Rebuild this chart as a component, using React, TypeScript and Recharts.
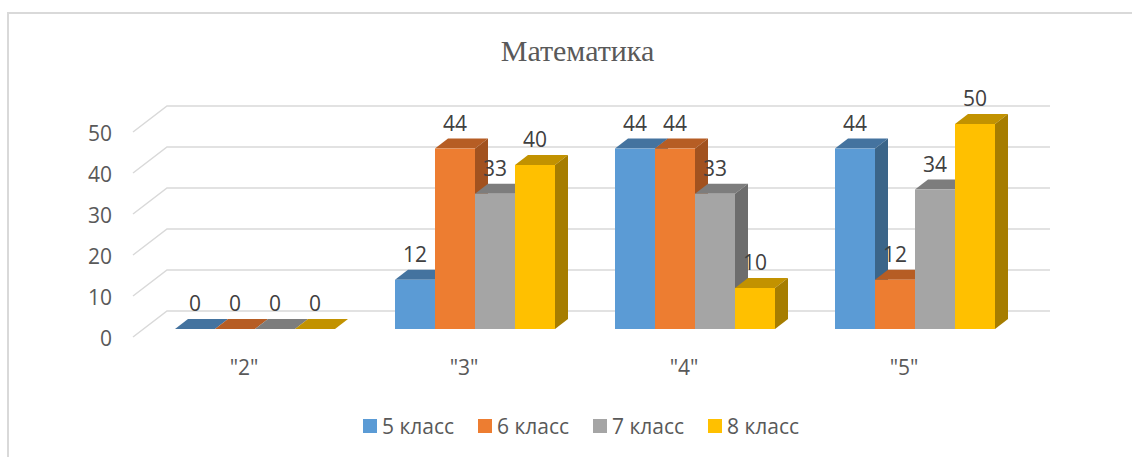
import React from "react";
import { BarChart, Bar, XAxis, YAxis, CartesianGrid, Legend, LabelList } from "recharts";

const categories = ['"2"', '"3"', '"4"', '"5"'];
const grade5 = [0, 12, 44, 44];
const grade6 = [0, 44, 44, 12];
const grade7 = [0, 33, 33, 34];
const grade8 = [0, 40, 10, 50];
const yTicks = [0, 10, 20, 30, 40, 50];

const data = categories.map((name, i) => ({
  name,
  g5: grade5[i],
  g6: grade6[i],
  g7: grade7[i],
  g8: grade8[i],
}));

const FONT = "'Open Sans', sans-serif";
const TEXT = "#595959";

const series = [
  { key: "g5", name: "5 класс", front: "#5B9BD5", top: "#44739F", side: "#3B6589" },
  { key: "g6", name: "6 класс", front: "#ED7D31", top: "#B65D24", side: "#A2521F" },
  { key: "g7", name: "7 класс", front: "#A5A5A5", top: "#7D7D7D", side: "#6D6D6D" },
  { key: "g8", name: "8 класс", front: "#FFC000", top: "#C29200", side: "#A67D00" },
];

const DX = 13;
const DY = 10;

function Bar3D(props: any) {
  const { x, y, width, height, front, top, side } = props;
  const r = x + width;
  const b = y + height;
  return (
    <g>
      <polygon points={`${x},${y} ${x + DX},${y - DY} ${r + DX},${y - DY} ${r},${y}`} fill={top} />
      <polygon points={`${r},${y} ${r + DX},${y - DY} ${r + DX},${b - DY} ${r},${b}`} fill={side} />
      <rect x={x} y={y} width={width} height={height} fill={front} />
    </g>
  );
}

function GridLine(props: any) {
  const { x1, y1, x2 } = props;
  const pts = `${x1 - 12},${y1 + 8} ${x1 + 22},${y1 - 18} ${x2 + 25},${y1 - 18}`;
  return <polyline points={pts} fill="none" stroke="#D9D9D9" strokeWidth={1.5} />;
}

function XTick(props: any) {
  const { x, payload } = props;
  return (
    <text x={x - 11} y={375} textAnchor="middle" fontFamily={FONT} fontSize={21} fill={TEXT}>
      {payload.value}
    </text>
  );
}

function YTick(props: any) {
  const { y, payload } = props;
  return (
    <text x={112} y={y + 17} textAnchor="end" fontFamily={FONT} fontSize={21} fill={TEXT}>
      {payload.value}
    </text>
  );
}

function DataLabel(props: any) {
  const { x, y, width, value } = props;
  return (
    <text
      x={x + width / 2}
      y={y - 18}
      textAnchor="middle"
      fontFamily={FONT}
      fontSize={21}
      fill="#404040"
    >
      {value}
    </text>
  );
}

function LegendContent() {
  return (
    <div style={{ position: "relative", width: 1132, height: 30 }}>
      {series.map((s, i) => (
        <div
          key={s.key}
          style={{
            position: "absolute",
            left: 363 + i * 115,
            top: 0,
            display: "flex",
            alignItems: "center",
            height: 30,
            fontFamily: FONT,
            fontSize: 21,
            color: TEXT,
            whiteSpace: "nowrap",
          }}
        >
          <span style={{ display: "block", width: 14, height: 14, background: s.front, marginRight: 5 }} />
          {s.name}
        </div>
      ))}
    </div>
  );
}

export default function App() {
  return (
    <div style={{ position: "absolute", left: 0, top: 0, width: 1132, height: 457, background: "#fff", overflow: "hidden" }}>
      <div style={{ position: "absolute", left: 7, top: 12, width: 1125, height: 1.5, background: "#D9D9D9" }} />
      <div style={{ position: "absolute", left: 7, top: 12, width: 2, height: 445, background: "#D9D9D9" }} />
      <div
        style={{
          position: "absolute",
          left: 0,
          width: 1155,
          top: 33,
          textAlign: "center",
          fontFamily: "'Liberation Serif', serif",
          fontSize: 30,
          lineHeight: "36px",
          color: TEXT,
        }}
      >
        Математика
      </div>
      <BarChart
        width={1132}
        height={457}
        data={data}
        barCategoryGap={30}
        barGap={0}
        margin={{ top: 124, right: 107, bottom: 58, left: 85 }}
        style={{ position: "absolute", left: 0, top: 0 }}
      >
        <CartesianGrid vertical={false} horizontal={(p: any) => <GridLine key={p.key ?? p.y1} {...p} />} />
        <XAxis dataKey="name" axisLine={false} tickLine={false} height={30} tick={<XTick />} interval={0} />
        <YAxis
          domain={[0, 50]}
          ticks={yTicks}
          width={60}
          axisLine={false}
          tickLine={false}
          tick={<YTick />}
          interval={0}
        />
        <Legend
          content={<LegendContent />}
          height={40}
          wrapperStyle={{ position: "absolute", left: 0, top: 411, width: 1132, bottom: "auto" }}
        />
        {series.map((s) => (
          <Bar
            key={s.key}
            dataKey={s.key}
            name={s.name}
            isAnimationActive={false}
            shape={(p: any) => <Bar3D {...p} front={s.front} top={s.top} side={s.side} />}
          >
            <LabelList dataKey={s.key} content={<DataLabel />} />
          </Bar>
        ))}
      </BarChart>
    </div>
  );
}
